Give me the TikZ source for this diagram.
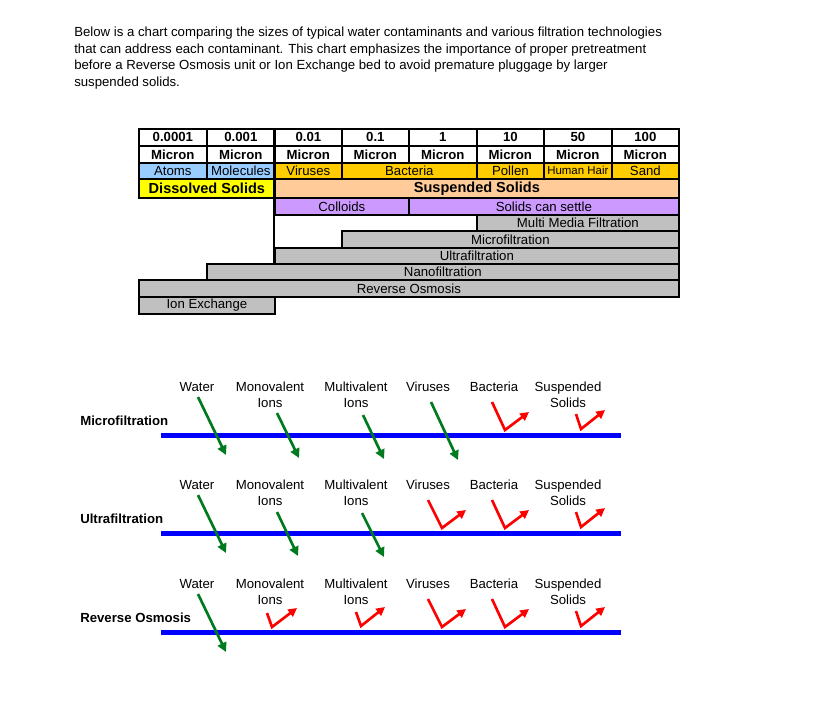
\documentclass[tikz,border=0pt]{standalone}
\usepackage{fontspec}
\setmainfont{Liberation Sans}
\usetikzlibrary{arrows.meta}
\definecolor{cblue}{HTML}{99CCFF}
\definecolor{cgold}{HTML}{FFCC00}
\definecolor{cyel}{HTML}{FFFF00}
\definecolor{cpeach}{HTML}{FFCC99}
\definecolor{cpurp}{HTML}{CC99FF}
\definecolor{cgray}{HTML}{C0C0C0}
\definecolor{cgreen}{HTML}{007A1E}
\definecolor{cline}{HTML}{0000FF}
\definecolor{cred}{HTML}{FF0000}
\newcommand\ftn{\fontsize{9.9}{11.8}\selectfont}
\newcommand\ftbig{\fontsize{10.9}{13}\selectfont\bfseries}
\newcommand\ftsm{\fontsize{8.6}{10}\selectfont}
\newcommand\cell[7]{\node[cellbox, fill=#6, minimum width={(#4-#2)*0.75pt}, minimum height={(#5-#3)*0.75pt}] (#1) at (#2,#3) {#7};}
\newcommand\garr[5]{\draw[garrow] (#1,{#5+#2}) -- (#3,{#5+#4});}
\newcommand\rarr[7]{\draw[rarrow] (#1,{#7+#2}) -- (#3,{#7+#4}) -- (#5,{#7+#6});}
\begin{document}
\begin{tikzpicture}[x=0.75pt,y=-0.75pt,
  cellbox/.style={draw=black, line width=1.3pt, anchor=north west, inner sep=0pt, font=\ftn},
  para/.style={anchor=base west, inner sep=0pt, font=\ftn},
  lbl/.style={anchor=base, inner sep=0pt, font=\ftn},
  ttl/.style={anchor=base west, inner sep=0pt, font=\ftn\bfseries},
  bline/.style={draw=cline, line width=3.75pt},
  garrow/.style={draw=cgreen, line width=2pt, -{Triangle[length=7pt,width=7pt]}},
  rarrow/.style={draw=cred, line width=2pt, line join=miter, -{Triangle[length=6.5pt,width=6.5pt]}}]
\fill[white] (0,0) rectangle (813,711);
\useasboundingbox (0,0) rectangle (813,711);
% paragraph
\node[para] (p1) at (74,36.5) {Below is a chart comparing the sizes of typical water contaminants and various filtration technologies};
\node[para] (p2) at (74,53.2) {that can address each contaminant. This chart emphasizes the importance of proper pretreatment};
\node[para] (p3) at (74,69.9) {before a Reverse Osmosis unit or Ion Exchange bed to avoid premature pluggage by larger};
\node[para] (p4) at (74,86.6) {suspended solids.};
% header row 1
\cell{h1}{138}{128}{206}{145}{white}{\bfseries 0.0001}
\cell{h2}{206}{128}{274}{145}{white}{\bfseries 0.001}
\cell{h3}{274}{128}{341}{145}{white}{\bfseries 0.01}
\cell{h4}{341}{128}{408}{145}{white}{\bfseries 0.1}
\cell{h5}{408}{128}{476}{145}{white}{\bfseries 1}
\cell{h6}{476}{128}{543}{145}{white}{\bfseries 10}
\cell{h7}{543}{128}{611}{145}{white}{\bfseries 50}
\cell{h8}{611}{128}{678}{145}{white}{\bfseries 100}
% header row 2
\cell{m1}{138}{145}{206}{162}{white}{\bfseries Micron}
\cell{m2}{206}{145}{274}{162}{white}{\bfseries Micron}
\cell{m3}{274}{145}{341}{162}{white}{\bfseries Micron}
\cell{m4}{341}{145}{408}{162}{white}{\bfseries Micron}
\cell{m5}{408}{145}{476}{162}{white}{\bfseries Micron}
\cell{m6}{476}{145}{543}{162}{white}{\bfseries Micron}
\cell{m7}{543}{145}{611}{162}{white}{\bfseries Micron}
\cell{m8}{611}{145}{678}{162}{white}{\bfseries Micron}
% row 3
\cell{atoms}{138}{162}{206}{178}{cblue}{Atoms}
\cell{molec}{206}{162}{274}{178}{cblue}{Molecules}
\cell{viru}{274}{162}{341}{178}{cgold}{Viruses}
\cell{bact}{341}{162}{476}{178}{cgold}{Bacteria}
\cell{poll}{476}{162}{543}{178}{cgold}{Pollen}
\cell{hair}{543}{162}{611}{178}{cgold}{\ftsm Human Hair}
\cell{sand}{611}{162}{678}{178}{cgold}{Sand}
% row 4
\cell{diss}{138}{178}{274}{197}{cyel}{\ftbig Dissolved Solids}
\cell{susp}{274}{178}{678}{197}{cpeach}{\ftbig Suspended Solids}
% row 5
\cell{coll}{274}{197}{408}{214}{cpurp}{Colloids}
\cell{settle}{408}{197}{678}{214}{cpurp}{Solids can settle}
% filtration bars
\cell{mmf}{476}{214}{678}{230}{cgray}{Multi Media Filtration}
\cell{mf}{341}{230}{678}{247}{cgray}{Microfiltration}
\cell{uf}{274}{247}{678}{263}{cgray}{Ultrafiltration}
\cell{nf}{206}{263}{678}{279}{cgray}{Nanofiltration}
\cell{ro}{138}{279}{678}{296}{cgray}{Reverse Osmosis}
\cell{ix}{138}{296}{274}{313}{cgray}{Ion Exchange}
\coordinate (vt) at (274,128);
\coordinate (vb) at (274,263);
\draw[line width=2.2pt] (vt) -- (vb);
% ---- panels ----
\foreach \L/\T in {435/Microfiltration, 533/Ultrafiltration, 632/Reverse Osmosis}{
  \draw[bline] (161,\L) -- (621,\L);
  \node[ttl] at (80,{\L-10}) {\T};
  \node[lbl] at (197,{\L-43.3}) {Water};
  \node[lbl] at (270,{\L-43.3}) {Monovalent};
  \node[lbl] at (270,{\L-27.7}) {Ions};
  \node[lbl] at (356,{\L-43.3}) {Multivalent};
  \node[lbl] at (356,{\L-27.7}) {Ions};
  \node[lbl] at (428,{\L-43.3}) {Viruses};
  \node[lbl] at (494,{\L-43.3}) {Bacteria};
  \node[lbl] at (568,{\L-43.3}) {Suspended};
  \node[lbl] at (568,{\L-27.7}) {Solids};
  \garr{198}{-38}{226}{20}{\L}
  \rarr{576}{-21}{581}{-6}{605}{-25}{\L}
  \rarr{492}{-33}{505}{-5}{529}{-23}{\L}
}
% Microfiltration
\garr{277}{-22}{299}{23}{435}
\garr{363}{-20}{384}{24}{435}
\garr{431}{-33}{458}{25}{435}
% Ultrafiltration
\garr{277}{-21}{298}{23}{533}
\garr{362}{-20}{384}{24}{533}
\rarr{428}{-33}{442}{-5}{466}{-23}{533}
% Reverse Osmosis
\rarr{267}{-19}{272}{-5}{297}{-24}{632}
\rarr{356}{-20}{361}{-6}{385}{-25}{632}
\rarr{428}{-33}{442}{-5}{466}{-23}{632}
\end{tikzpicture}
\end{document}
